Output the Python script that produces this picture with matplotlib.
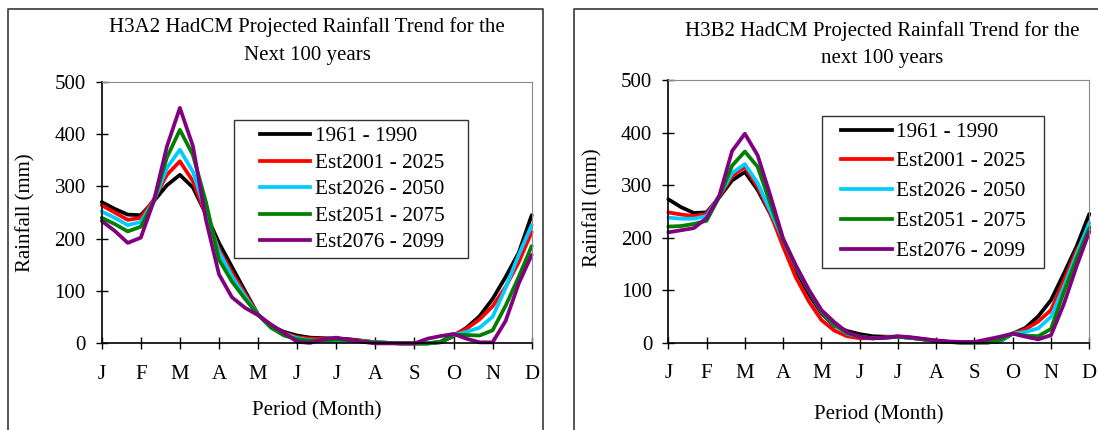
import matplotlib.pyplot as plt
from matplotlib.lines import Line2D
from matplotlib.patches import Rectangle
import numpy as np

plt.rcParams['font.family'] = ['Liberation Serif', 'DejaVu Serif']

# tamaño de la imagen en pixeles
W, H = 1098, 430

meses = ["J", "F", "M", "A", "M", "J", "J", "A", "S", "O", "N", "D"]
# tres lecturas por mes (decadas), de J a D
decadas = np.arange(34) / 3

periodos = ["1961 - 1990", "Est2001 - 2025", "Est2026 - 2050", "Est2051 - 2075", "Est2076 - 2099"]
colores = ["#000000", "#FF0000", "#00CCFF", "#008000", "#800080"]

# escenario H3A2
a2_1961 = [270, 257, 246, 245, 272, 302, 322, 298, 247, 192, 146, 100, 55, 33, 22, 15, 11,
           10, 9, 8, 5, 2, 1, 0, 0, 0, 2, 14, 30, 52, 85, 127, 173, 245]
a2_2025 = [264, 250, 236, 240, 275, 322, 348, 310, 245, 180, 135, 95, 55, 32, 20, 12, 9,
           9, 8, 7, 5, 2, 1, 0, 0, 0, 3, 16, 28, 46, 71, 108, 155, 213]
a2_2050 = [252, 240, 226, 232, 272, 335, 370, 328, 250, 175, 128, 90, 55, 30, 18, 10, 6,
           5, 5, 5, 4, 2, 1, 0, 0, 0, 3, 16, 22, 30, 51, 106, 169, 226]
a2_2075 = [240, 228, 214, 223, 272, 355, 408, 360, 270, 160, 118, 85, 55, 30, 15, 8, 5,
           6, 7, 6, 4, 2, 1, 0, 0, 0, 3, 17, 16, 15, 25, 72, 127, 186]
a2_2099 = [234, 215, 192, 202, 272, 376, 450, 377, 236, 132, 88, 68, 54, 36, 20, 3, 1,
           8, 11, 7, 3, 0, 0, 0, 0, 9, 14, 18, 9, 2, 2, 43, 114, 169]

# escenario H3B2
b2_1961 = [273, 258, 247, 248, 277, 309, 325, 291, 245, 192, 138, 93, 56, 32, 22, 16, 12,
           11, 11, 9, 6, 3, 1, 0, 0, 0, 2, 17, 28, 50, 81, 131, 183, 245]
b2_2025 = [248, 244, 241, 245, 278, 317, 335, 297, 246, 183, 124, 79, 43, 23, 12, 8, 8,
           10, 11, 9, 6, 3, 1, 0, 0, 0, 4, 17, 25, 40, 62, 118, 175, 220]
b2_2050 = [238, 236, 236, 241, 280, 323, 340, 304, 251, 196, 144, 100, 59, 34, 17, 11, 8,
           9, 11, 9, 6, 3, 1, 0, 0, 0, 3, 17, 20, 27, 49, 106, 168, 228]
b2_2075 = [221, 222, 226, 232, 278, 337, 364, 335, 265, 196, 145, 100, 60, 35, 18, 11, 8,
           9, 11, 9, 6, 3, 1, 0, 0, 1, 5, 17, 13, 12, 26, 96, 160, 218]
b2_2099 = [210, 214, 218, 237, 280, 365, 398, 357, 280, 198, 147, 101, 62, 39, 20, 11, 8,
           9, 12, 10, 7, 4, 2, 1, 1, 6, 11, 17, 11, 6, 14, 73, 145, 211]


def fx(px):
    return px / W


def fy(py):
    return 1 - py / H


def linea(fig, xs, ys, **kw):
    fig.add_artist(Line2D([fx(x) for x in xs], [fy(y) for y in ys],
                          transform=fig.transFigure, **kw))


def dibujar_panel(fig, caja, series, titulo, centro_titulo, centro_ylabel, centro_xlabel):
    x0, y0, x1, y1 = caja
    ax = fig.add_axes([fx(x0), fy(y1), fx(x1) - fx(x0), fy(y0) - fy(y1)])
    for valores, color in zip(series, colores):
        ax.plot(decadas, valores, color=color, lw=2.7, clip_on=False,
                solid_joinstyle='round', solid_capstyle='round')

    ax.set_xlim(0, 11)
    ax.set_ylim(0, 500)
    ax.set_xticks(range(12))
    ax.set_xticklabels(meses)
    ax.set_yticks(range(0, 501, 100))
    ax.tick_params(direction='inout', length=9, width=1, labelsize=15, colors='black')
    ax.tick_params(axis='x', pad=11)
    ax.tick_params(axis='y', pad=7)
    ax.spines['left'].set_linewidth(1.2)
    ax.spines['bottom'].set_linewidth(1.2)
    ax.spines['top'].set_color('#8a8a8a')
    ax.spines['right'].set_color('#8a8a8a')

    fig.text(fx(centro_titulo[0]), fy(centro_titulo[1]), titulo, fontsize=15,
             ha='center', va='center', linespacing=1.6)
    fig.text(fx(centro_ylabel[0]), fy(centro_ylabel[1]), "Rainfall (mm)", fontsize=15,
             rotation=90, ha='center', va='center')
    fig.text(fx(centro_xlabel[0]), fy(centro_xlabel[1]), "Period (Month)", fontsize=15,
             ha='center', va='center')
    return ax


def dibujar_leyenda(fig, caja, filas, x_linea, x_texto):
    x0, y0, x1, y1 = caja
    fig.add_artist(Rectangle((fx(x0), fy(y1)), fx(x1) - fx(x0), fy(y0) - fy(y1),
                             transform=fig.transFigure, fill=False,
                             edgecolor='#333333', lw=1))
    for y, nombre, color in zip(filas, periodos, colores):
        linea(fig, x_linea, [y, y], color=color, lw=2.7)
        fig.text(fx(x_texto), fy(y + 6.8), nombre, fontsize=15.3, ha='left', va='baseline')


fig = plt.figure(figsize=(W / 100, H / 100), dpi=100)

# marcos exteriores de cada grafica
linea(fig, [8.3, 8.3, 542.7, 542.7], [H, 9, 9, H], color='#3a3a3a', lw=1.2)
linea(fig, [574, 574, W], [H, 9, 9], color='#3a3a3a', lw=1.2)

dibujar_panel(fig, (101.7, 81.7, 531.7, 343.4),
              [a2_1961, a2_2025, a2_2050, a2_2075, a2_2099],
              "H3A2 HadCM Projected Rainfall Trend for the\nNext 100 years",
              (307, 41), (26, 213), (317, 410.5))
dibujar_leyenda(fig, (234, 120, 468, 258), [134, 161, 187, 214, 240], [259.5, 310], 315)

dibujar_panel(fig, (668.3, 80.2, 1089.3, 342.5),
              [b2_1961, b2_2025, b2_2050, b2_2075, b2_2099],
              "H3B2 HadCM Projected Rainfall Trend for the\nnext 100 years",
              (882, 44.5), (592.5, 208), (878.5, 415))
dibujar_leyenda(fig, (821.8, 116, 1043.9, 268), [130, 159, 189, 219, 249], [840.7, 892], 896)

plt.savefig("out.png", dpi=100)
